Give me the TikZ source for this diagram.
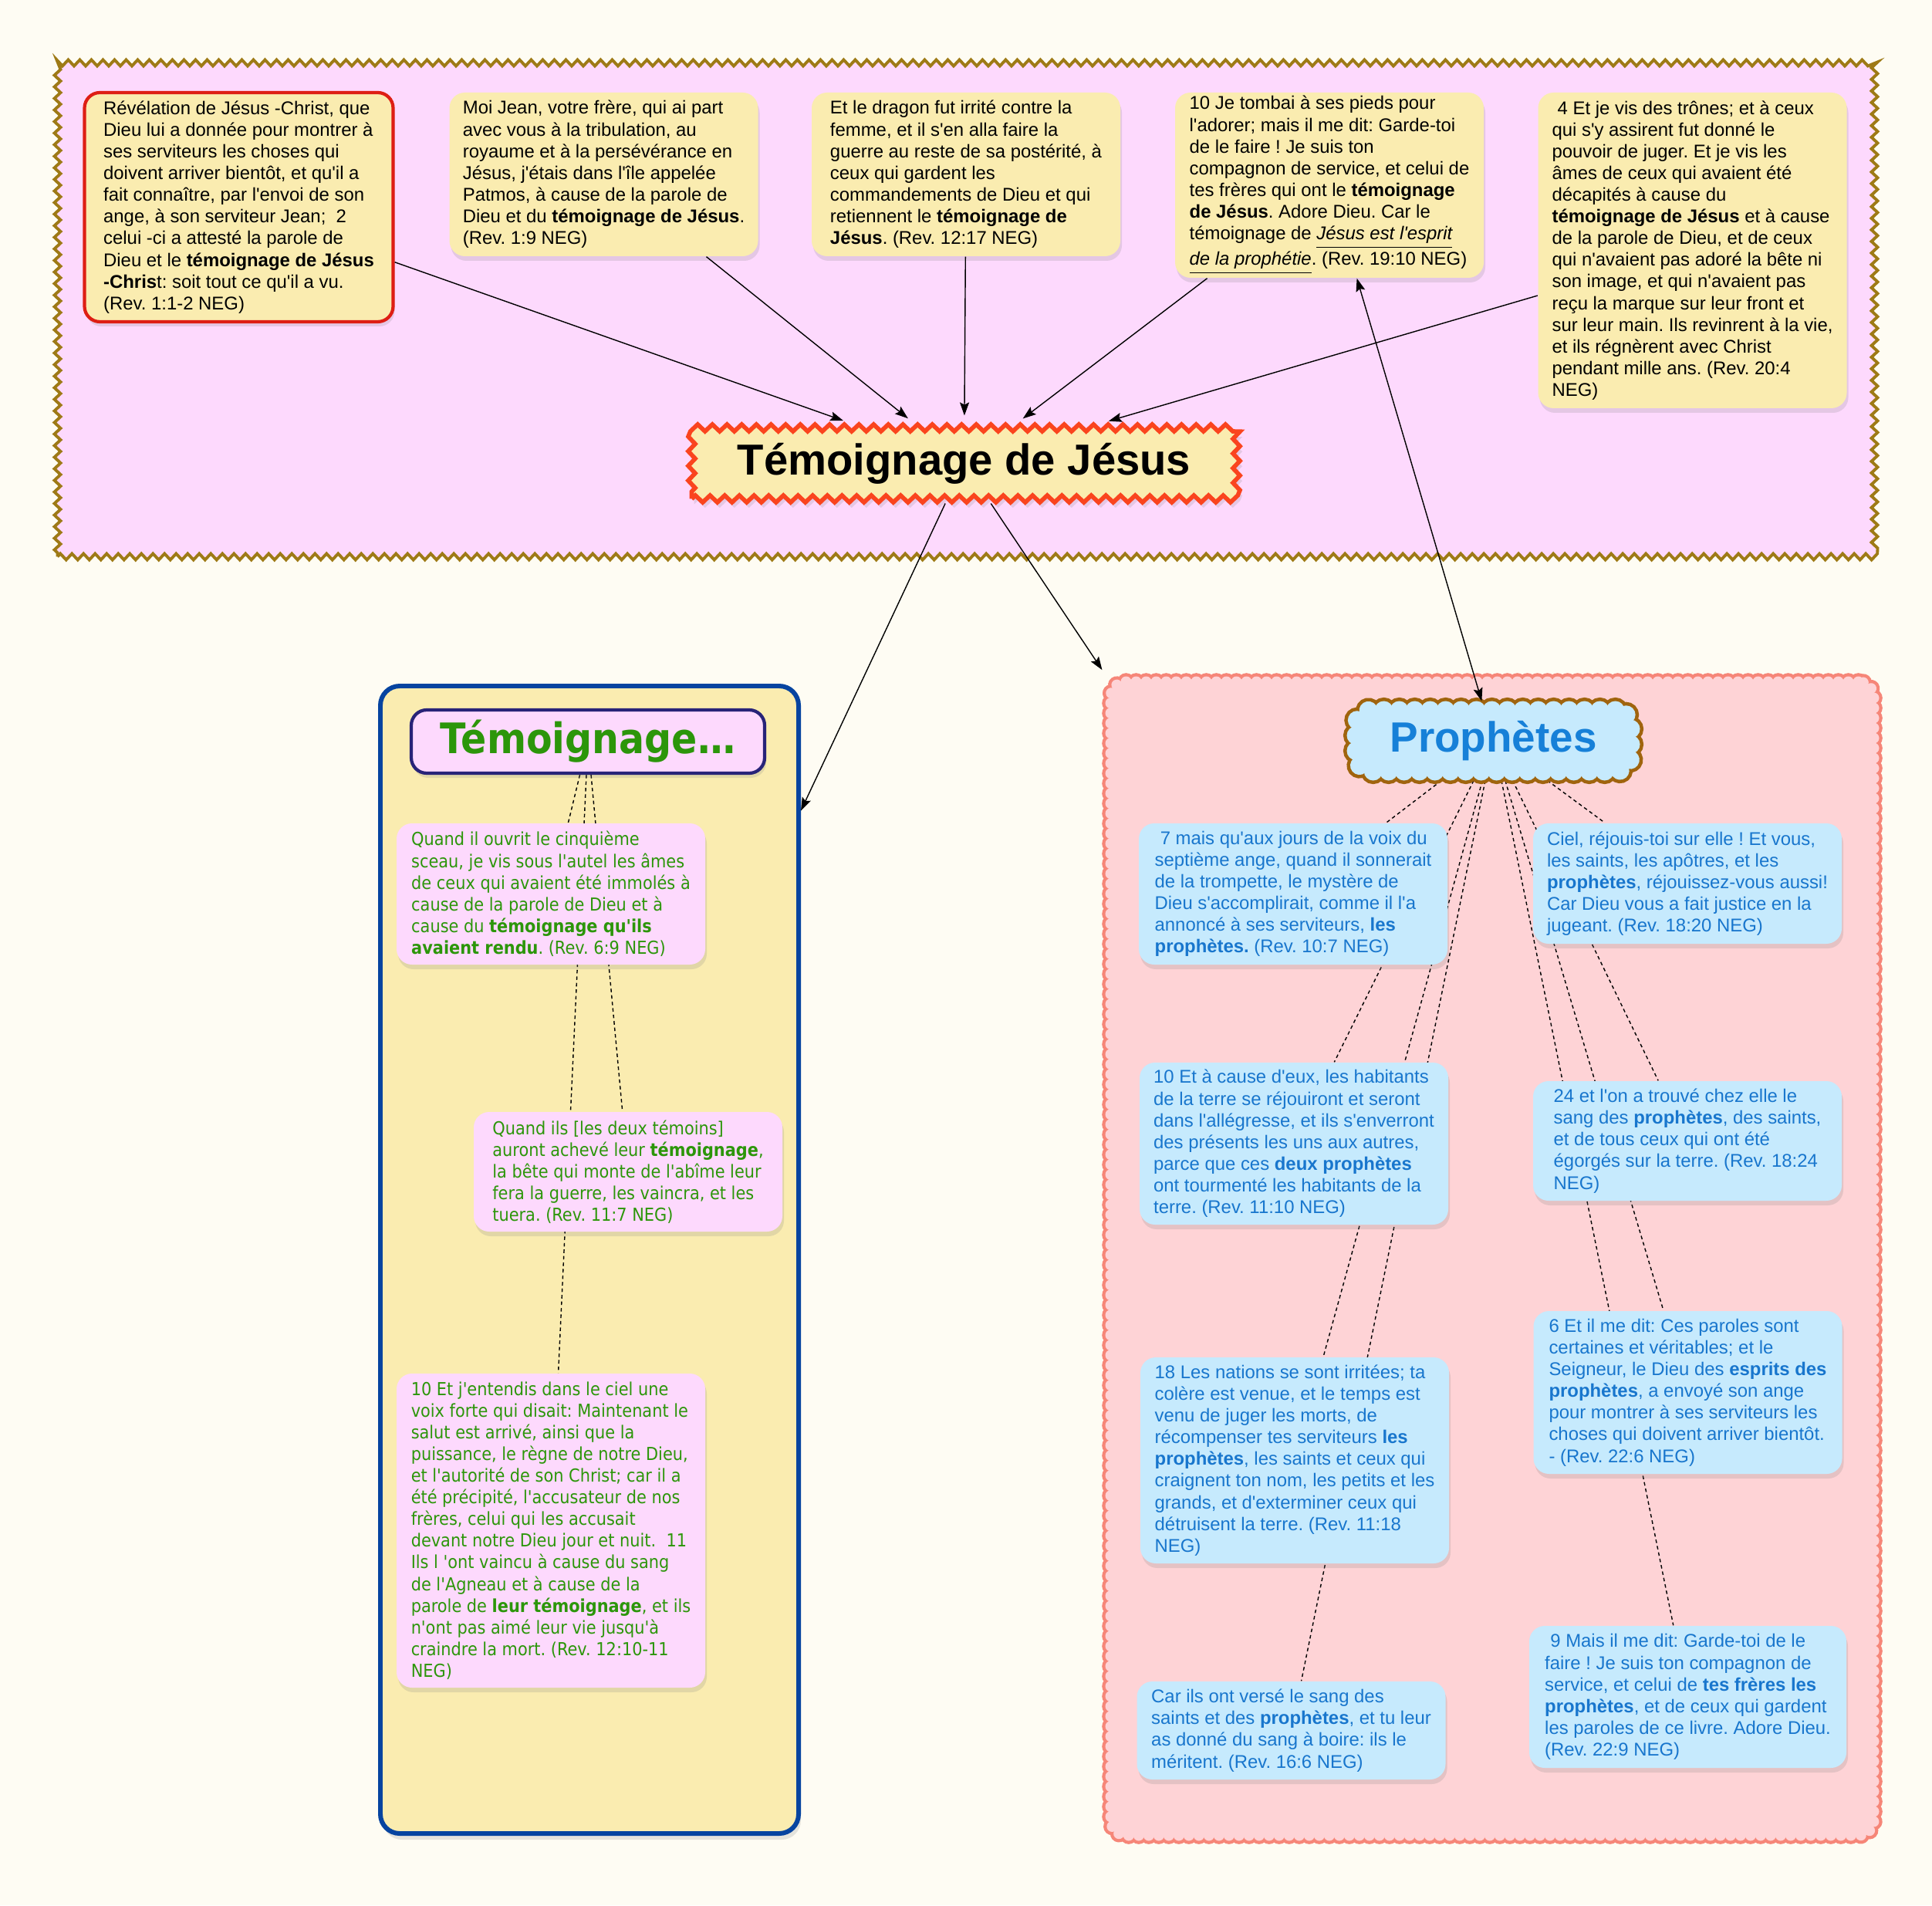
\documentclass[tikz,border=0pt]{standalone}
\usepackage{fontspec}
\newfontfamily\helvfont{Liberation Sans}
\newfontfamily\verdfont[FakeStretch=0.9]{DejaVu Sans}
\usetikzlibrary{arrows.meta,shadows,decorations.pathmorphing,decorations.markings}

\definecolor{pagebg}{RGB}{254,252,243}
\definecolor{revpink}{RGB}{253,217,253}
\definecolor{revgold}{RGB}{158,122,22}
\definecolor{cream}{RGB}{250,236,176}
\definecolor{titlered}{RGB}{250,68,30}
\definecolor{boxred}{RGB}{222,30,20}
\definecolor{temblue}{RGB}{6,68,160}
\definecolor{headnavy}{RGB}{40,35,120}
\definecolor{temgreen}{RGB}{44,150,10}
\definecolor{prophpink}{RGB}{254,211,214}
\definecolor{prophedge}{RGB}{246,134,120}
\definecolor{skyfill}{RGB}{198,234,253}
\definecolor{cloudbrown}{RGB}{160,100,14}
\definecolor{versblue}{RGB}{24,118,205}
\definecolor{prophblue}{RGB}{22,128,216}

\pgfdeclarelayer{zones}
\pgfdeclarelayer{wires}
\pgfsetlayers{zones,wires,main}

\tikzset{
  verse/.style={rectangle,rounded corners=0.2cm,align=left,inner xsep=0.16cm,inner ysep=0pt,
    minimum width=4cm,minimum height=#1,font=\helvfont\frenchspacing\fontsize{6.8}{8}\selectfont,
    drop shadow={opacity=0.2,shadow xshift=0.02cm,shadow yshift=-0.06cm}},
  revverse/.style={verse=#1,fill=cream},
  temverse/.style={verse=#1,fill=revpink,text=temgreen,font=\verdfont\frenchspacing\fontsize{6.6}{8}\selectfont},
  prophverse/.style={verse=#1,fill=skyfill,text=versblue},
  link/.style={-{Stealth[length=1.7mm,width=1.2mm,inset=0.3mm]},thin},
  tie/.style={dash pattern=on 1.3pt off 1.1pt,thin},
}

\begin{document}
\begin{tikzpicture}
\useasboundingbox (0,0) rectangle (25.04,-24.69);
\begin{pgfonlayer}{zones}
  \fill[pagebg] (0,0) rectangle (25.04,-24.69);
  \node [rectangle,fill=revpink,draw=revgold,line width=1.1pt,minimum width=23.55cm,minimum height=6.4cm,
    decorate,decoration={zigzag,segment length=0.15cm,amplitude=0.04cm}] (revzone) at (12.52,-4.015) {};
  \node [rectangle,rounded corners=0.25cm,fill=cream,draw=temblue,line width=1.7pt,minimum width=5.42cm,minimum height=14.87cm,
    drop shadow={opacity=0.2,shadow xshift=0.03cm,shadow yshift=-0.08cm}] (temzone) at (7.64,-16.325) {};
  \node [rectangle,rounded corners=0.2cm,fill=prophpink,minimum width=9.89cm,minimum height=14.95cm,outer sep=0.07cm,
    preaction={decorate,decoration={markings,mark=between positions 0 and 1 step 0.13cm with {\draw[prophedge,line width=2.4pt] (0,0) circle (0.07cm);}}},
    preaction={decorate,decoration={markings,mark=between positions 0 and 1 step 0.13cm with {\fill[prophpink] (0,0) circle (0.07cm);}}}] (prophzone) at (19.34,-16.31) {};
\end{pgfonlayer}

\node [revverse=2.97cm,draw=boxred,line width=1.2pt] (rev1) at (3.095,-2.685) {Révélation de Jésus -Christ, que\\
Dieu lui a donnée pour montrer à\\ses serviteurs les choses qui\\doivent arriver bientôt, et qu'il a\\
fait connaître, par l'envoi de son\\ange, à son serviteur Jean;\ \ 2\\celui -ci a attesté la parole de\\
Dieu et le \textbf{témoignage de Jésus}\\\textbf{-Chris}t: soit tout ce qu'il a vu.\\(Rev. 1:1-2 NEG)};
\node [revverse=2.12cm] (rev2) at (7.825,-2.26) {Moi Jean, votre frère, qui ai part\\avec vous à la tribulation, au\\
royaume et à la persévérance en\\Jésus, j'étais dans l'île appelée\\Patmos, à cause de la parole de\\
Dieu et du \textbf{témoignage de Jésus}.\\(Rev. 1:9 NEG)};
\node [revverse=2.12cm] (rev3) at (12.52,-2.26) {Et le dragon fut irrité contre la\\femme, et il s'en alla faire la\\
guerre au reste de sa postérité, à\\ceux qui gardent les\\commandements de Dieu et qui\\
retiennent le \textbf{témoignage de}\\\textbf{Jésus}. (Rev. 12:17 NEG)};
\node [revverse=2.40cm] (rev4) at (17.23,-2.40) {10 Je tombai à ses pieds pour\\l'adorer; mais il me dit: Garde-toi\\
de le faire ! Je suis ton\\compagnon de service, et celui de\\tes frères qui ont le \textbf{témoignage}\\
\textbf{de Jésus}. Adore Dieu. Car le\\témoignage de \textit{\underline{Jésus est l'esprit}}\\
\textit{\underline{de la prophétie}}. (Rev. 19:10 NEG)};
\node [revverse=4.09cm] (rev5) at (21.935,-3.245) {\hspace*{0.3em}4 Et je vis des trônes; et à ceux\\qui s'y assirent fut donné le\\
pouvoir de juger. Et je vis les\\âmes de ceux qui avaient été\\décapités à cause du\\
\textbf{témoignage de Jésus} et à cause\\de la parole de Dieu, et de ceux\\qui n'avaient pas adoré la bête ni\\
son image, et qui n'avaient pas\\reçu la marque sur leur front et\\sur leur main. Ils revinrent à la vie,\\
et ils régnèrent avec Christ\\pendant mille ans. (Rev. 20:4\\NEG)};

\node [rectangle,fill=cream,draw=titlered,line width=1.6pt,minimum width=7.06cm,minimum height=0.92cm,outer sep=0.06cm,
  decorate,decoration={zigzag,segment length=0.19cm,amplitude=0.045cm},
  drop shadow={opacity=0.2,shadow xshift=0.03cm,shadow yshift=-0.07cm},
  font=\helvfont\bfseries\fontsize{16}{18}\selectfont] (jesus) at (12.495,-6.005) {Témoignage de Jésus};

\node [rectangle,rounded corners=0.2cm,fill=revpink,draw=headnavy,line width=1.2pt,minimum width=4.58cm,minimum height=0.82cm,
  text=temgreen,font=\verdfont\bfseries\fontsize{15.5}{17}\selectfont,
  drop shadow={opacity=0.2,shadow xshift=0.02cm,shadow yshift=-0.06cm}] (temhead) at (7.62,-9.61) {Témoignage…};
\node [temverse=1.83cm] (tem1) at (7.14,-11.585) {Quand il ouvrit le cinquième\\sceau, je vis sous l'autel les âmes\\
de ceux qui avaient été immolés à\\cause de la parole de Dieu et à\\cause du \textbf{témoignage qu'ils}\\
\textbf{avaient rendu}. (Rev. 6:9 NEG)};
\node [temverse=1.55cm] (tem2) at (8.14,-15.185) {Quand ils [les deux témoins]\\auront achevé leur \textbf{témoignage},\\
la bête qui monte de l'abîme leur\\fera la guerre, les vaincra, et les\\tuera. (Rev. 11:7 NEG)};
\node [temverse=4.07cm] (tem3) at (7.14,-19.835) {10 Et j'entendis dans le ciel une\\voix forte qui disait: Maintenant le\\
salut est arrivé, ainsi que la\\puissance, le règne de notre Dieu,\\et l'autorité de son Christ; car il a\\
été précipité, l'accusateur de nos\\frères, celui qui les accusait\\devant notre Dieu jour et nuit.\ \ 11\\
Ils l 'ont vaincu à cause du sang\\de l'Agneau et à cause de la\\parole de \textbf{leur témoignage}, et ils\\
n'ont pas aimé leur vie jusqu'à\\craindre la mort. (Rev. 12:10-11\\NEG)};

\node [rectangle,rounded corners=0.2cm,drop shadow={opacity=0.2,shadow xshift=0.02cm,shadow yshift=-0.08cm},
  preaction={decorate,decoration={markings,mark=between positions 0 and 1 step 0.2cm with {\draw[cloudbrown,line width=2.6pt] (0,0) circle (0.12cm);}}},
  preaction={decorate,decoration={markings,mark=between positions 0 and 1 step 0.2cm with {\fill[skyfill] (0,0) circle (0.12cm);}}},
  fill=skyfill,minimum width=3.56cm,minimum height=0.79cm,outer sep=0.12cm,
  text=prophblue,font=\helvfont\bfseries\fontsize{15.6}{18}\selectfont] (prophnode) at (19.355,-9.60) {Prophètes};
\node [prophverse=1.83cm] (proph1) at (16.76,-11.585) {\hspace*{0.3em}7 mais qu'aux jours de la voix du\\septième ange, quand il sonnerait\\
de la trompette, le mystère de\\Dieu s'accomplirait, comme il l'a\\annoncé à ses serviteurs, \textbf{les}\\
\textbf{prophètes.} (Rev. 10:7 NEG)};
\node [prophverse=1.56cm] (proph2) at (21.87,-11.45) {Ciel, réjouis-toi sur elle ! Et vous,\\les saints, les apôtres, et les\\
\textbf{prophètes}, réjouissez-vous aussi!\\Car Dieu vous a fait justice en la\\jugeant. (Rev. 18:20 NEG)};
\node [prophverse=2.10cm] (proph3) at (16.77,-14.82) {10 Et à cause d'eux, les habitants\\de la terre se réjouiront et seront\\
dans l'allégresse, et ils s'enverront\\des présents les uns aux autres,\\parce que ces \textbf{deux prophètes}\\
ont tourmenté les habitants de la\\terre. (Rev. 11:10 NEG)};
\node [prophverse=1.55cm] (proph4) at (21.87,-14.785) {24 et l'on a trouvé chez elle le\\sang des \textbf{prophètes}, des saints,\\
et de tous ceux qui ont été\\égorgés sur la terre. (Rev. 18:24\\NEG)};
\node [prophverse=2.67cm] (proph5) at (16.78,-18.925) {18 Les nations se sont irritées; ta\\colère est venue, et le temps est\\
venu de juger les morts, de\\récompenser tes serviteurs \textbf{les}\\\textbf{prophètes}, les saints et ceux qui\\
craignent ton nom, les petits et les\\grands, et d'exterminer ceux qui\\détruisent la terre. (Rev. 11:18\\NEG)};
\node [prophverse=2.11cm] (proph6) at (21.875,-18.045) {6 Et il me dit: Ces paroles sont\\certaines et véritables; et le\\
Seigneur, le Dieu des \textbf{esprits des}\\\textbf{prophètes}, a envoyé son ange\\pour montrer à ses serviteurs les\\
choses qui doivent arriver bientôt.\\- (Rev. 22:6 NEG)};
\node [prophverse=1.27cm] (proph7) at (16.735,-22.425) {Car ils ont versé le sang des\\saints et des \textbf{prophètes}, et tu leur\\
as donné du sang à boire: ils le\\méritent. (Rev. 16:6 NEG)};
\node [prophverse=1.84cm,minimum width=4.11cm] (proph8) at (21.875,-21.99) {\hspace*{0.3em}9 Mais il me dit: Garde-toi de le\\faire ! Je suis ton compagnon de\\
service, et celui de \textbf{tes frères les}\\\textbf{prophètes}, et de ceux qui gardent\\les paroles de ce livre. Adore Dieu.\\
(Rev. 22:9 NEG)};

\begin{pgfonlayer}{wires}
  \draw[tie] (temhead) -- (tem1);
  \draw[tie] (temhead) -- (tem2);
  \draw[tie] (temhead) -- (tem3);
  \draw[tie] (prophnode) -- (proph1);
  \draw[tie] (prophnode) -- (proph2);
  \draw[tie] (prophnode) -- (proph3);
  \draw[tie] (prophnode) -- (proph4);
  \draw[tie] (prophnode) -- (proph5);
  \draw[tie] (prophnode) -- (proph6);
  \draw[tie] (prophnode) -- (proph7);
  \draw[tie] (prophnode) -- (proph8);
\end{pgfonlayer}

\draw[link,shorten >=0.1cm] (rev1) -- (jesus);
\draw[link,shorten >=0.1cm] (rev2) -- (jesus);
\draw[link,shorten >=0.1cm] (rev3) -- (jesus);
\draw[link,shorten >=0.1cm] (rev4) -- (jesus);
\draw[link,shorten >=0.1cm] (rev5) -- (jesus);
\draw[link] (jesus) -- (temzone);
\draw[link,shorten >=0.1cm] (jesus) -- (prophzone);
\draw[link,{Stealth[length=1.7mm,width=1.2mm,inset=0.3mm]}-{Stealth[length=1.7mm,width=1.2mm,inset=0.3mm]}] (rev4) -- (prophnode);
\end{tikzpicture}
\end{document}
